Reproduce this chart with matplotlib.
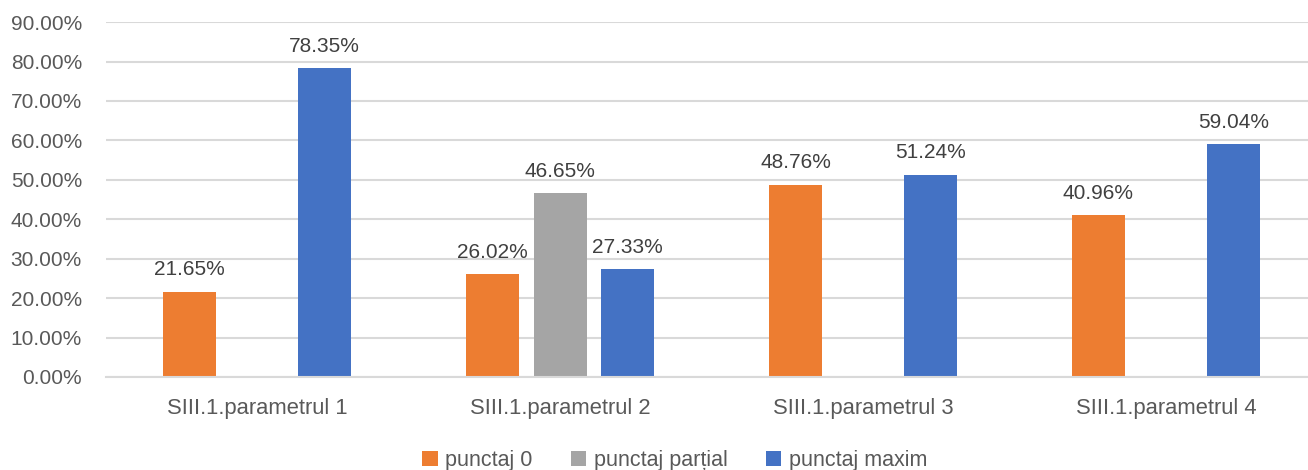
import matplotlib.pyplot as plt
import numpy as np
from matplotlib.ticker import PercentFormatter

plt.rcParams['font.family'] = ['Liberation Sans', 'DejaVu Sans']

categories = ['SIII.1.parametrul 1', 'SIII.1.parametrul 2',
              'SIII.1.parametrul 3', 'SIII.1.parametrul 4']
series_names = ['punctaj 0', 'punctaj parțial', 'punctaj maxim']
punctaj_0 = [21.65, 26.02, 48.76, 40.96]
punctaj_partial = [np.nan, 46.65, np.nan, np.nan]
punctaj_maxim = [78.35, 27.33, 51.24, 59.04]
colors = ['#ED7D31', '#A5A5A5', '#4472C4']

fig = plt.figure(figsize=(13.08, 4.70), dpi=100)
ax = fig.add_axes([0.0807, 0.198, 0.9266, 0.755])

x = np.arange(len(categories))
width = 0.175
step = 0.223

for k, (vals, name, col) in enumerate(zip([punctaj_0, punctaj_partial, punctaj_maxim],
                                           series_names, colors)):
    v = np.array(vals, dtype=float)
    bars = ax.bar(x + (k - 1) * step, np.nan_to_num(v), width, color=col, label=name)
    for b, val in zip(bars, v):
        if np.isnan(val):
            continue
        ax.annotate(f'{val:.2f}%', (b.get_x() + b.get_width() / 2, val),
                    xytext=(0, 9), textcoords='offset points',
                    ha='center', va='bottom', fontsize=15, color='#404040')

ax.set_xlim(-0.5, len(categories) - 0.5)
ax.set_ylim(0, 90)
ax.set_yticks(np.arange(0, 91, 10))
ax.yaxis.set_major_formatter(PercentFormatter(decimals=2))
ax.set_xticks(x)
ax.set_xticklabels(categories, fontsize=15.8)
ax.tick_params(axis='both', length=0, colors='#595959')
ax.tick_params(axis='y', pad=17, labelsize=15)
ax.tick_params(axis='x', pad=15)
ax.grid(axis='y', color='#D9D9D9', lw=1.5)
ax.set_axisbelow(True)
for s in ['top', 'right', 'left']:
    ax.spines[s].set_visible(False)
ax.spines['bottom'].set_color('#D9D9D9')
ax.spines['bottom'].set_linewidth(1.5)

fig.legend(loc='center', bbox_to_anchor=(0.516, 0.021), ncol=3, frameon=False,
           fontsize=15.5, labelcolor='#595959', handlelength=0.7, handleheight=0.7,
           handletextpad=0.35, columnspacing=1.8)

fig.savefig('out.png', dpi=100)
